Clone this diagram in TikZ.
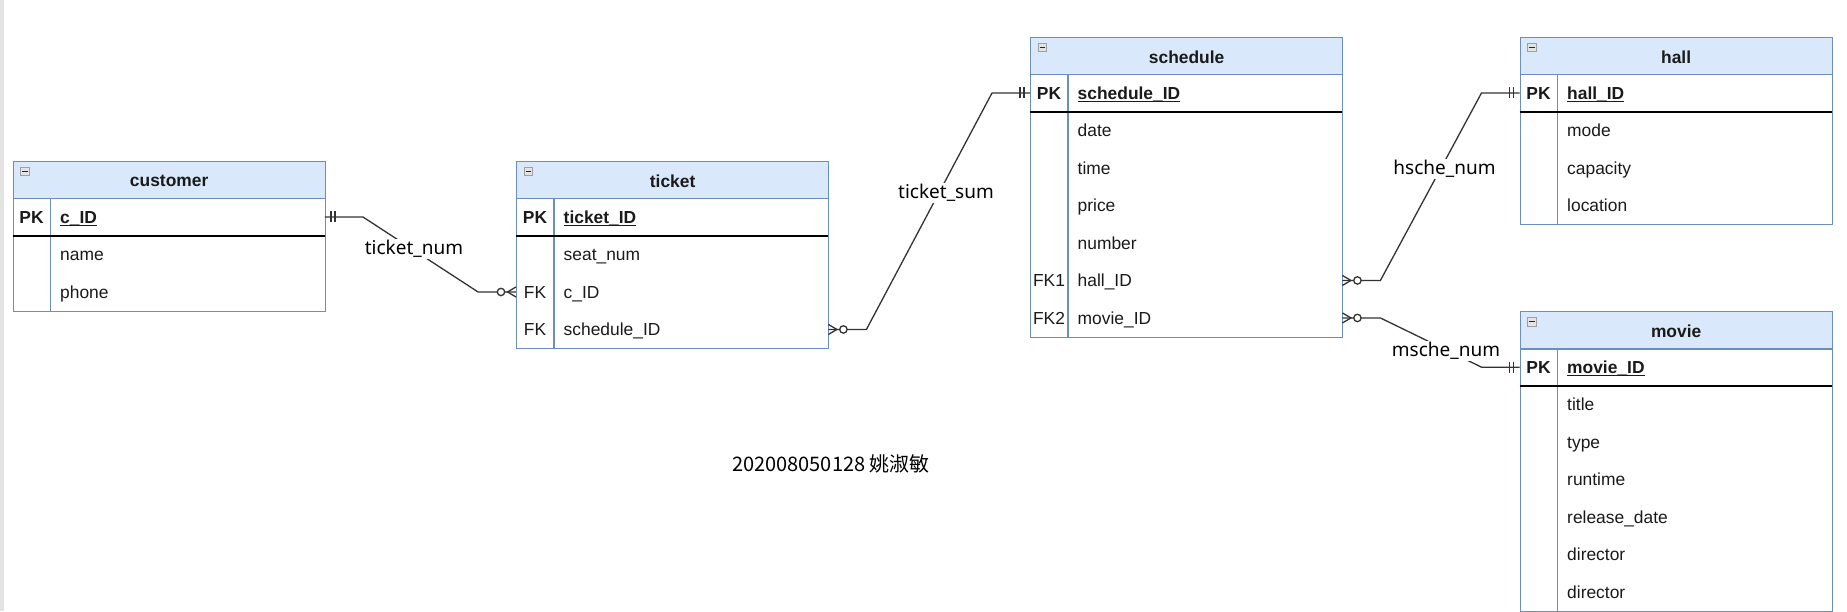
\documentclass[tikz,border=0pt]{standalone}
\usepackage{fontspec}
\setmainfont{Liberation Sans}
\newfontfamily\lblfont{Noto Sans}
\newfontfamily\cjkfont{Noto Sans CJK SC}
\usetikzlibrary{calc}
\definecolor{erblue}{HTML}{6C8EBF}
\definecolor{erfill}{HTML}{DAE8FC}
\definecolor{ink}{HTML}{1A1A1A}
\definecolor{conncol}{HTML}{333333}
\tikzset{
  tbox/.style={draw=erblue, line width=1.3pt, fill=white, minimum width=312pt, inner sep=0pt},
  thdr/.style={draw=erblue, line width=1.3pt, fill=erfill, minimum width=312pt, minimum height=37.5pt, inner sep=0pt},
  trow/.style={minimum width=312pt, minimum height=37.5pt, inner sep=0pt},
  tline/.style={draw=erblue, line width=1.3pt},
  pkline/.style={draw=black, line width=1.5pt},
  uline/.style={draw=ink, line width=1.2pt},
  ttitle/.style={inner sep=0pt, text=ink, font=\fontsize{17.4pt}{20pt}\selectfont\bfseries},
  keybold/.style={inner sep=0pt, anchor=mid, text=ink, font=\fontsize{17.4pt}{20pt}\selectfont\bfseries},
  keytext/.style={inner sep=0pt, anchor=mid, text=ink, font=\fontsize{17.4pt}{20pt}\selectfont},
  fieldbold/.style={inner sep=0pt, anchor=mid west, text=ink, font=\fontsize{17.4pt}{20pt}\selectfont\bfseries},
  fieldtext/.style={inner sep=0pt, anchor=mid west, text=ink, font=\fontsize{17.4pt}{20pt}\selectfont},
  iconbox/.style={draw=gray!75, fill=gray!22, line width=0.8pt, minimum size=8.5pt, inner sep=0pt},
  icondash/.style={draw=gray!30!black, line width=1.2pt},
  conn/.style={draw=conncol, line width=1.3pt},
  elabel/.style={fill=white, inner sep=1pt, text=black, font=\lblfont\fontsize{19pt}{22pt}\selectfont},
  footer/.style={inner sep=0pt, text=black, font=\cjkfont\fontsize{20pt}{24pt}\selectfont}
}
% #1 name, #2 x, #3 top y, #4 title, #5 pk field, #6 rows key/field, #7 number of rows
\newcommand\ertable[7]{%
  \pgfmathsetmacro\ertabh{(#7+2)*37.5}%
  \node[tbox, minimum height=\ertabh pt, anchor=north west] (#1) at (#2,#3) {};
  \node[thdr, anchor=north west] (#1-h) at (#2,#3) {};
  \node[ttitle] (#1-t) at ($(#1-h.center)+(0,1.5)$) {#4};
  \node[iconbox] (#1-i) at ($(#1-h.north west)+(12.5,11)$) {};
  \draw[icondash] ([xshift=-2.6pt]#1-i.center) -- ([xshift=2.6pt]#1-i.center);
  \node[trow, anchor=north west] (#1-pk) at (#2,{#3+37.5}) {};
  \node[keybold] (#1-pkk) at ($(#1-pk.west)+(19,3.5)$) {PK};
  \node[fieldbold] (#1-pkf) at ($(#1-pk.west)+(47.5,3.5)$) {#5};
  \draw[uline] ([yshift=-2.5pt]#1-pkf.base west) -- ([yshift=-2.5pt]#1-pkf.base east);
  \foreach \k/\f [count=\i from 0] in {#6} {
    \node[trow, anchor=north west] (#1-r\i) at (#2,{#3+37.5*(\i+2)}) {};
    \node[keytext] (#1-k\i) at ($(#1-r\i.west)+(19,3.5)$) {\k};
    \node[fieldtext] (#1-f\i) at ($(#1-r\i.west)+(47.5,3.5)$) {\f};
  }
  \draw[tline] ($(#1.north west)+(38,37.5)$) -- ($(#1.south west)+(38,0)$);
  \draw[pkline] (#1-pk.south west) -- (#1-pk.south east);
}
% mandatory one: #1 point, #2 direction (+1 right, -1 left)
\newcommand\ermandone[2]{%
  \draw[conn] ([xshift=#2*6pt]#1) +(0,-5.5) -- +(0,5.5);
  \draw[conn] ([xshift=#2*10pt]#1) +(0,-5.5) -- +(0,5.5);
}
% zero to many: #1 point, #2 direction
\newcommand\erzeromany[2]{%
  \draw[conn] ([yshift=5pt]#1) -- ([xshift=#2*8.5pt]#1) -- ([yshift=-5pt]#1);
  \draw[conn, fill=white] ([xshift=#2*15pt]#1) circle (3.7pt);
}
\begin{document}
\begin{tikzpicture}[x=1pt, y=-1pt]
\useasboundingbox (0,0) rectangle (1847,611);
\fill[gray!22] (0,0) rectangle (3.5,611);

\ertable{customer}{12.5}{160.5}{customer}{c\_ID}{{}/name,{}/phone}{2}
\ertable{ticket}{516}{160.5}{ticket}{ticket\_ID}{{}/seat\_num,FK/c\_ID,FK/schedule\_ID}{3}
\ertable{schedule}{1030}{36.5}{schedule}{schedule\_ID}{{}/date,{}/time,{}/price,{}/number,FK1/hall\_ID,FK2/movie\_ID}{6}
\ertable{hall}{1519.5}{36.5}{hall}{hall\_ID}{{}/mode,{}/capacity,{}/location}{3}
\ertable{movie}{1519.5}{310.7}{movie}{movie\_ID}{{}/title,{}/type,{}/runtime,{}/release\_date,{}/director,{}/director}{6}

% connectors
\draw[conn] (customer-pk.east) -- ++(38,0) -- ([xshift=-38pt]ticket-r1.west) -- (ticket-r1.west);
\draw[conn] (ticket-r2.east) -- ++(38,0) -- ([xshift=-38pt]schedule-pk.west) -- (schedule-pk.west);
\draw[conn] (schedule-r4.east) -- ++(38,0) -- ([xshift=-38pt]hall-pk.west) -- (hall-pk.west);
\draw[conn] (schedule-r5.east) -- ++(38,0) -- ([xshift=-38pt]movie-pk.west) -- (movie-pk.west);

\ermandone{customer-pk.east}{1}
\erzeromany{ticket-r1.west}{-1}
\erzeromany{ticket-r2.east}{1}
\ermandone{schedule-pk.west}{-1}
\erzeromany{schedule-r4.east}{1}
\ermandone{hall-pk.west}{-1}
\erzeromany{schedule-r5.east}{1}
\ermandone{movie-pk.west}{-1}

\node[elabel] (l1) at (414,249) {ticket\_num};
\node[elabel] (l2) at (946,193) {ticket\_sum};
\node[elabel] (l3) at (1444.5,169) {hsche\_num};
\node[elabel] (l4) at (1446,351) {msche\_num};

\node[footer] (sig) at (831,464) {202008050128 姚淑敏};
\end{tikzpicture}
\end{document}
